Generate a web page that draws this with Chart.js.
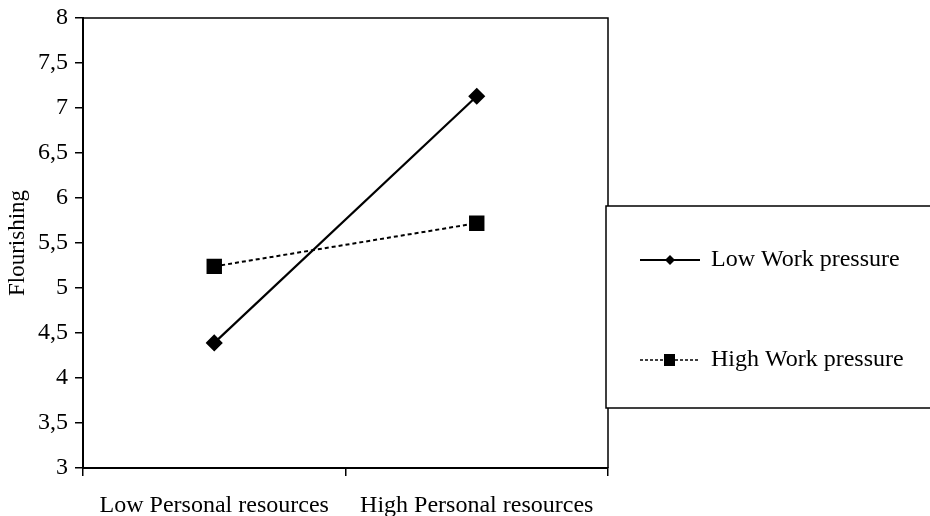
<!DOCTYPE html>
<html>
<head>
<meta charset="utf-8">
<script src="https://cdn.jsdelivr.net/npm/chart.js@4/dist/chart.umd.min.js"></script>
<style>
  html, body { margin: 0; padding: 0; background: #fff; }
  #wrap { width: 930px; height: 516px; position: relative; }
</style>
</head>
<body>
<div id="wrap"><canvas id="chart"></canvas></div>
<script>
// Categories on the x axis
const categories = ['Low Personal resources', 'High Personal resources'];

// Series values
const lowWorkPressure = [4.39, 7.13];
const highWorkPressure = [5.24, 5.72];

// Series names
const seriesNames = ['Low Work pressure', 'High Work pressure'];

// Y axis range and step
const yMin = 3;
const yMax = 8;
const yStep = 0.5;

const serif = '"Liberation Serif", "Times New Roman", serif';

// Draws the box round the plot area and the boxed legend on the right
const framePlugin = {
    id: 'frame',
    afterDatasetsDraw(chart) {
        const ctx = chart.ctx;
        const a = chart.chartArea;
        ctx.save();
        ctx.strokeStyle = '#000';
        ctx.lineWidth = 1.5;
        ctx.beginPath();
        ctx.moveTo(a.left, a.top);
        ctx.lineTo(a.right, a.top);
        ctx.lineTo(a.right, a.bottom);
        ctx.stroke();

        // legend box
        const bx = 606, by = 206, bw = 330, bh = 202;
        ctx.fillStyle = '#fff';
        ctx.fillRect(bx, by, bw, bh);
        ctx.strokeRect(bx, by, bw, bh);

        const rows = [260, 360];
        chart.data.datasets.forEach((ds, i) => {
            const y = rows[i];
            ctx.strokeStyle = '#000';
            ctx.lineWidth = i === 0 ? 2 : 1.5;
            ctx.setLineDash(i === 0 ? [] : [3, 2]);
            ctx.beginPath();
            ctx.moveTo(640, y);
            ctx.lineTo(700, y);
            ctx.stroke();
            ctx.setLineDash([]);
            ctx.fillStyle = '#000';
            if (i === 0) {
                ctx.beginPath();
                ctx.moveTo(670, y - 5);
                ctx.lineTo(675, y);
                ctx.lineTo(670, y + 5);
                ctx.lineTo(665, y);
                ctx.closePath();
                ctx.fill();
            } else {
                ctx.fillRect(664, y - 6, 11, 12);
            }
            ctx.font = '24px ' + serif;
            ctx.textBaseline = 'middle';
            ctx.textAlign = 'left';
            ctx.fillText(ds.label, 711, y);
        });
        ctx.restore();
    }
};

const chart = new Chart(document.getElementById('chart'), {
    type: 'line',
    data: {
        labels: categories,
        datasets: [
            {
                label: seriesNames[0],
                data: lowWorkPressure,
                borderColor: '#000',
                backgroundColor: '#000',
                borderWidth: 2.2,
                pointStyle: 'rectRot',
                pointRadius: 7,
                pointHoverRadius: 7,
                tension: 0
            },
            {
                label: seriesNames[1],
                data: highWorkPressure,
                borderColor: '#000',
                backgroundColor: '#000',
                borderWidth: 2,
                borderDash: [4, 3],
                pointStyle: 'rect',
                pointRadius: 9.5,
                pointHoverRadius: 9.5,
                tension: 0
            }
        ]
    },
    options: {
        responsive: true,
        maintainAspectRatio: false,
        animation: false,
        layout: { padding: { top: 18, right: 322, left: 0, bottom: 0 } },
        plugins: {
            legend: { display: false },
            tooltip: { enabled: false }
        },
        scales: {
            x: {
                offset: true,
                grid: {
                    offset: true,
                    drawOnChartArea: false,
                    tickLength: 8,
                    color: '#000',
                    lineWidth: 1.5
                },
                border: { color: '#000', width: 2 },
                ticks: {
                    color: '#000',
                    font: { family: serif, size: 24 },
                    padding: 15,
                    maxRotation: 0
                },
                afterFit(scale) {
                    scale.height = 48;
                    scale.paddingLeft = 0;
                    scale.paddingRight = 0;
                }
            },
            y: {
                min: yMin,
                max: yMax,
                grid: {
                    drawOnChartArea: false,
                    tickLength: 8,
                    color: '#000',
                    lineWidth: 1.5
                },
                border: { color: '#000', width: 2 },
                ticks: {
                    stepSize: yStep,
                    color: '#000',
                    padding: 7,
                    font: { family: serif, size: 24 },
                    callback: v => String(v).replace('.', ',')
                },
                title: {
                    display: true,
                    text: 'Flourishing',
                    color: '#000',
                    font: { family: serif, size: 23 },
                    padding: { top: 4, bottom: 6 }
                },
                afterFit(scale) {
                    scale.width = 83;
                    scale.paddingTop = 0;
                    scale.paddingBottom = 0;
                }
            }
        }
    },
    plugins: [framePlugin]
});
</script>
</body>
</html>
